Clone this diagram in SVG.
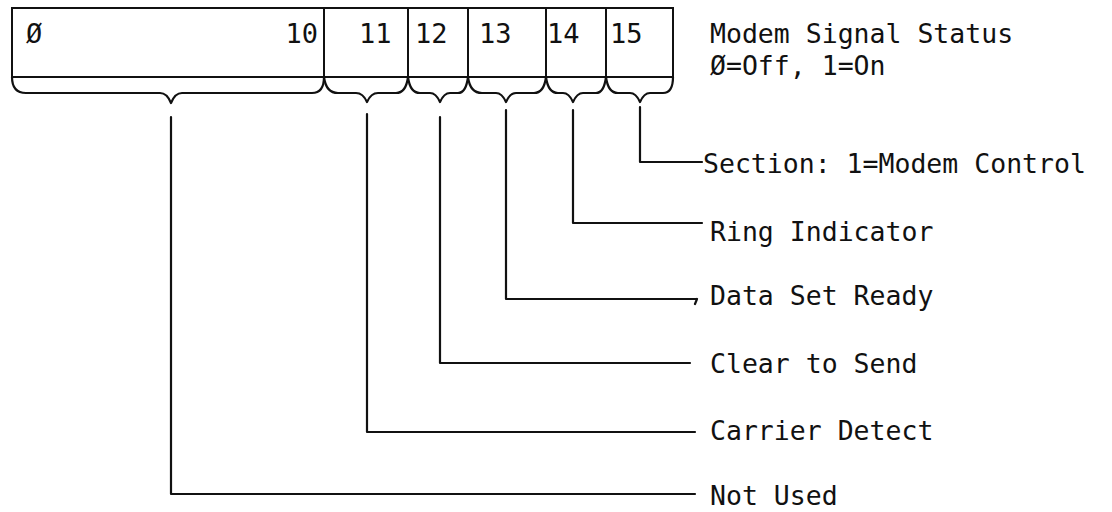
<svg xmlns="http://www.w3.org/2000/svg" width="1112" height="512" viewBox="0 0 1112 512">
<style>
.cell{fill:none;stroke:#111;stroke-width:2}
.ln{fill:none;stroke:#111;stroke-width:2.2;stroke-linecap:round;stroke-linejoin:round}
.t{font-family:"DejaVu Sans Mono","Liberation Mono",monospace;font-size:26.5px;fill:#111}
.n{font-family:"DejaVu Sans Mono","Liberation Mono",monospace;font-size:27px;fill:#111}
</style>
<rect width="1112" height="512" fill="#fff"/>
<g id="register">
  <g id="bits-0-10"><rect class="cell" x="12" y="8" width="312" height="69"/><text class="n" x="26" y="43">Ø</text><text class="n" x="318" y="43" text-anchor="end">10</text></g>
  <g id="bit-11"><rect class="cell" x="324" y="8" width="84" height="69"/><text class="n" x="359" y="43">11</text></g>
  <g id="bit-12"><rect class="cell" x="408" y="8" width="60" height="69"/><text class="n" x="415" y="43">12</text></g>
  <g id="bit-13"><rect class="cell" x="468" y="8" width="78" height="69"/><text class="n" x="479" y="43">13</text></g>
  <g id="bit-14"><rect class="cell" x="546" y="8" width="60" height="69"/><text class="n" x="547" y="43">14</text></g>
  <g id="bit-15"><rect class="cell" x="606" y="8" width="67" height="69"/><text class="n" x="610" y="43">15</text></g>
</g>
<g id="title"><text class="t" x="710" y="43">Modem Signal Status</text><text class="t" x="710" y="75">Ø=Off, 1=On</text></g>
<g id="connectors">
  <path class="ln" d="M12,77 Q12,93 26,93 L160,93 Q167,93 171,103 Q175,93 182,93 L312,93 Q324,93 324,77"/>
  <path class="ln" d="M324,77 Q326,93 338,93 L356,93 Q363,93 367,102 Q371,93 378,93 L396,93 Q406,93 408,77"/>
  <path class="ln" d="M408,77 Q410,93 420,93 L430,93 Q436,93 440,102 Q444,93 450,93 L458,93 Q466,93 468,77"/>
  <path class="ln" d="M468,77 Q470,93 482,93 L496,93 Q502,93 506,102 Q510,93 516,93 L534,93 Q544,93 546,77"/>
  <path class="ln" d="M546,77 Q548,93 558,93 L563,93 Q569,93 573,102 Q577,93 583,93 L596,93 Q604,93 606,77"/>
  <path class="ln" d="M606,77 Q608,93 618,93 L630,93 Q636,93 640,102 Q644,93 650,93 L663,93 Q673,93 673,77"/>
  <path class="ln" d="M640,107 L640,162 L702,162"/>
  <path class="ln" d="M573,110 L573,223 L702,223"/>
  <path class="ln" d="M506,110 L506,299 L697,299 M697,299 L695,304"/>
  <path class="ln" d="M440,117 L440,363 L690,363"/>
  <path class="ln" d="M367,114 L367,432 L695,432"/>
  <path class="ln" d="M171,117 L171,494 L695,494"/>
</g>
<g id="label-section"><text class="t" x="703" y="173">Section: 1=Modem Control</text></g>
<g id="label-ring"><text class="t" x="710" y="241">Ring Indicator</text></g>
<g id="label-dsr"><text class="t" x="710" y="305">Data Set Ready</text></g>
<g id="label-cts"><text class="t" x="710" y="373">Clear to Send</text></g>
<g id="label-cd"><text class="t" x="710" y="440">Carrier Detect</text></g>
<g id="label-unused"><text class="t" x="710" y="505">Not Used</text></g>
</svg>
